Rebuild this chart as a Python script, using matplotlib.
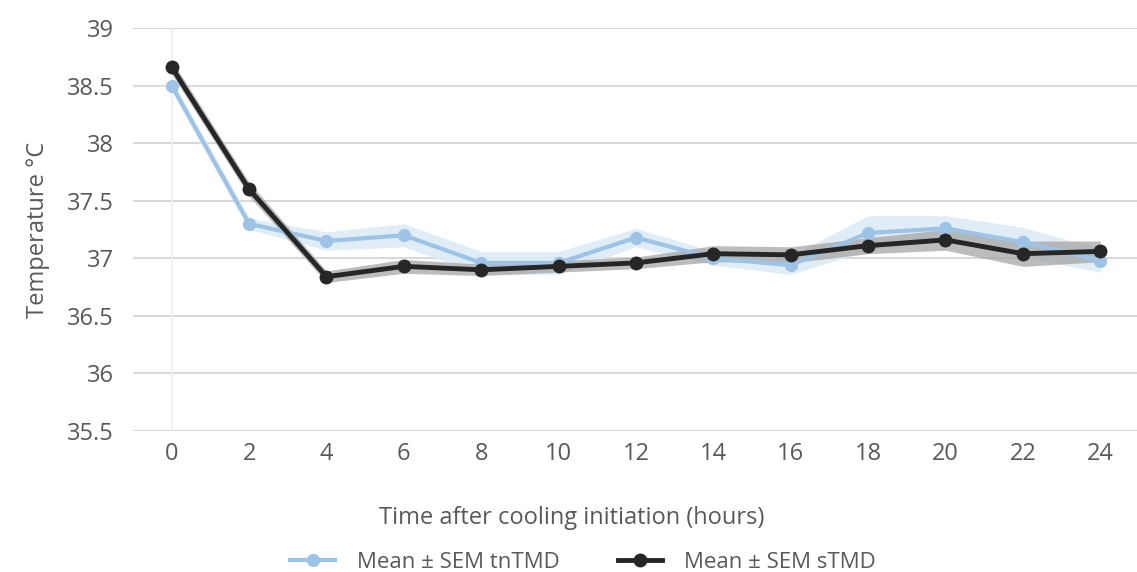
import numpy as np
import matplotlib
matplotlib.use("Agg")
from matplotlib import pyplot as plt

plt.rcParams.update({'font.family': ['Open Sans', 'DejaVu Sans'], 'font.size': 17})

# hours after cooling initiation
hours = [0, 2, 4, 6, 8, 10, 12, 14, 16, 18, 20, 22, 24]

# tnTMD mean and SEM
tn_mean = [38.50, 37.30, 37.15, 37.20, 36.96, 36.96, 37.18, 37.00, 36.94, 37.22, 37.26, 37.14, 36.98]
tn_sem = [0.05, 0.05, 0.08, 0.10, 0.10, 0.10, 0.08, 0.06, 0.08, 0.15, 0.11, 0.13, 0.10]

# sTMD mean and SEM
s_mean = [38.66, 37.60, 36.84, 36.93, 36.90, 36.93, 36.96, 37.04, 37.03, 37.11, 37.16, 37.04, 37.06]
s_sem = [0.06, 0.06, 0.05, 0.06, 0.05, 0.05, 0.05, 0.07, 0.07, 0.07, 0.09, 0.11, 0.09]

y_ticks = [35.5, 36, 36.5, 37, 37.5, 38, 38.5, 39]
y_labels = ["35.5", "36", "36.5", "37", "37.5", "38", "38.5", "39"]

BLUE = "#9DC3E6"
DARK = "#262626"
TEXT = "#595959"

fig = plt.figure(figsize=(11.37, 5.72), dpi=100)
ax = fig.add_axes([0.117, 0.2465, 0.883, 0.7045])

x = np.array(hours)
tn_mean = np.array(tn_mean)
s_mean = np.array(s_mean)

ax.axvline(0, color="#EEEEEE", lw=1.2, zorder=1)

ax.fill_between(x, tn_mean - tn_sem, tn_mean + tn_sem, color="#DDEBF7", alpha=0.9, lw=0, zorder=2)
ax.fill_between(x, s_mean - s_sem, s_mean + s_sem, color="#A6A6A6", alpha=0.75, lw=0, zorder=3)

ax.plot(x, tn_mean, color=BLUE, lw=3, marker="o", ms=8.5, label="Mean ± SEM tnTMD", zorder=4)
ax.plot(x, s_mean, color=DARK, lw=3.5, marker="o", ms=9, label="Mean ± SEM sTMD", zorder=5)

ax.set_xlim(-1, 24.95)
ax.set_ylim(35.5, 39)
ax.set_xticks(hours)
ax.set_yticks(y_ticks)
ax.set_yticklabels(y_labels)
ax.grid(True, axis="y", color="#D9D9D9", lw=1.5, zorder=0)
ax.set_axisbelow(True)
for s in ax.spines.values():
    s.set_visible(False)
ax.tick_params(length=0, colors=TEXT, labelsize=17)
ax.tick_params(axis="y", pad=14)
ax.tick_params(axis="x", pad=8)

ax.set_ylabel("Temperature °C", color=TEXT, fontsize=17, labelpad=12)
fig.text(0.503, 0.095, "Time after cooling initiation (hours)", color=TEXT, fontsize=17,
         ha="center", va="center")

leg = fig.legend(loc="center", bbox_to_anchor=(0.513, 0.017), ncol=2, frameon=False,
                 fontsize=16, handlelength=2.0, handletextpad=1.0, columnspacing=2.6,
                 labelcolor=TEXT)

plt.savefig("out.png", dpi=100)
